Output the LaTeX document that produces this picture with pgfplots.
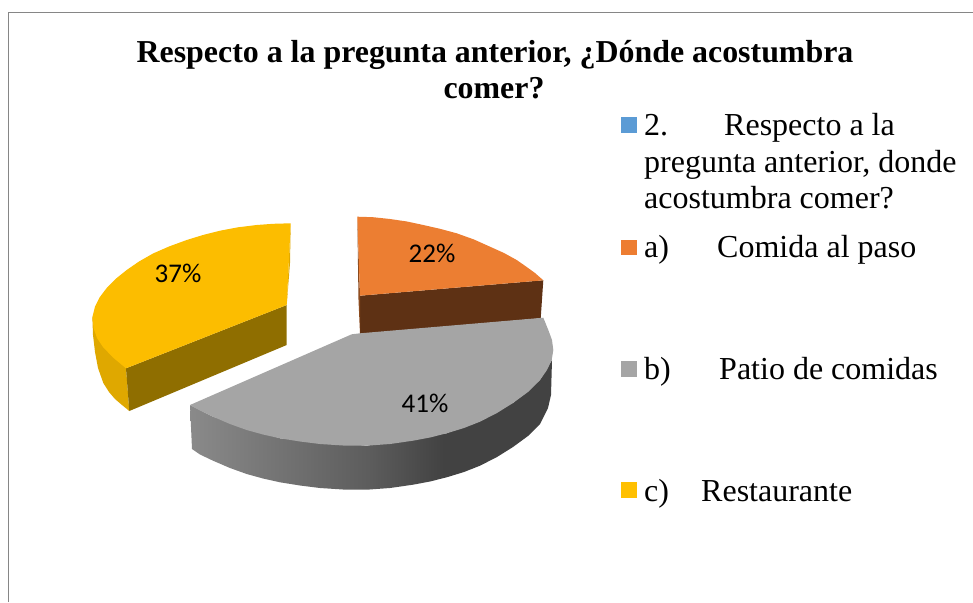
\documentclass[border=0pt]{standalone}
\usepackage{pgfplots}
\usepackage{fontspec}
\pgfplotsset{compat=1.18}
\setmainfont{Liberation Serif}
\newfontfamily\calibri{Carlito}

\definecolor{frameline}{HTML}{868686}
\definecolor{serblue}{HTML}{5B9BD5}
\definecolor{serorange}{HTML}{ED7D31}
\definecolor{toporange}{HTML}{EC7E32}
\definecolor{orangedark}{HTML}{5E3114}
\definecolor{orangeside}{HTML}{8A4A1E}
\definecolor{sergrey}{HTML}{A5A5A5}
\definecolor{seryellow}{HTML}{FFC000}
\definecolor{topyellow}{HTML}{FCBD00}
\definecolor{yellowdark}{HTML}{8F6E00}
\definecolor{yellowside}{HTML}{DFA800}
\definecolor{g1}{HTML}{8A8A8A}
\definecolor{g2}{HTML}{5C5C5C}
\definecolor{g3}{HTML}{424242}
\pgfdeclarehorizontalshading{greyside}{100bp}{
  color(0bp)=(g1); color(25bp)=(g1); color(50bp)=(g2); color(60bp)=(g3); color(75bp)=(g3); color(100bp)=(g3)}

\newcommand{\legtext}[3]{\node[anchor=base west, inner sep=0pt, font=\fontsize{32}{37}\selectfont] at (axis cs:#1,#2) {#3};}

\begin{document}
\begin{tikzpicture}
\useasboundingbox (0,0) rectangle (973pt,602pt);
\begin{axis}[
    at={(0,0)}, anchor=south west,
    scale only axis,
    width=973pt, height=602pt,
    xmin=0, xmax=973, ymin=0, ymax=602,
    y dir=reverse,
    hide axis,
    clip=true,
]
% chart frame
\addplot[frameline, line width=1pt] coordinates {(8,602) (8,12.5) (973,12.5)};

% yellow slice, 37%
\addplot[draw=none, fill=yellowside] coordinates {
    (92.3,316) (93,335) (95,352) (98,368) (103.3,383) (109,392) (115,399) (122,405) (129.3,411)
    (126,368) (100,340)} --cycle;
\addplot[draw=none, fill=yellowdark] coordinates {
    (126,368.3) (129.3,411) (286.7,345) (286.7,305)} --cycle;
\addplot[draw=none, fill=yellowside] coordinates {
    (290.7,223.3) (290,263) (286.7,305)} --cycle;
\addplot[draw=none, fill=topyellow] coordinates {
    (290.7,223.3) (273,223.8) (256.7,225) (238,227.3) (220,230.7) (203,235) (186.7,240)
    (169,246.5) (153,253.5) (139,261.5) (126.7,270) (115.5,279) (106.7,288) (99.5,297.5)
    (95,306.7) (92.5,316.7) (93.5,328) (97,338) (103,347) (113,357.5) (126,368.3)
    (286.7,305)} --cycle;

% orange slice, 22%
\addplot[draw=none, fill=orangedark] coordinates {
    (360,295.7) (543.3,280.3) (540.7,318.3) (360,334)} --cycle;
\addplot[draw=none, fill=orangeside] coordinates {
    (357.3,216.7) (360,295.7) (360,334) (358.5,300)} --cycle;
\addplot[draw=none, fill=toporange] coordinates {
    (357.3,216.7) (373,217.2) (390,219) (407,221.5) (423.3,225) (440,228.8) (456.7,233.3)
    (474,239.5) (490,246.7) (504,253) (516.7,260) (526,266.5) (535,273) (543.3,280.3)
    (360,295.7)} --cycle;

% grey slice, 41%
\addplot[draw=none, shading=greyside] coordinates {
    (190,405) (192,449) (200,454.5) (213,460.7) (230,468) (246.7,474) (263,478.5) (280,482.3)
    (300,485.5) (320,488) (343,489.5) (366.7,489.7) (390,488) (413,484.7) (430,481.5)
    (446.7,477.3) (464,472) (480,465.7) (497,457) (513,447) (528,436) (540,424) (548,408)
    (551,395) (552,360) (540,380) (513,403) (446.7,433.3) (366.7,445.7) (280,438.3) (213,416.7)} --cycle;
\addplot[draw=none, fill=sergrey] coordinates {
    (351.7,334.3) (360,333.3) (543.3,317.7) (548.3,330) (552,340) (553.3,350) (551.7,360)
    (547,370) (540,380) (528,392) (513,403) (497,413) (480,421.7) (464,428) (446.7,433.3)
    (430,437.5) (413,440.7) (390,444) (366.7,445.7) (343,445.5) (320,444) (300,441.5)
    (280,438.3) (263,434.5) (246.7,430) (230,424) (213,416.7) (200,410.5) (190,405)} --cycle;

% data labels
\addplot[only marks, mark=none, point meta=explicit symbolic,
    nodes near coords={\pgfplotspointmeta\%},
    nodes near coords align={center},
    every node near coord/.style={anchor=center, inner sep=0pt, font=\calibri\fontsize{27}{30}\selectfont},
] coordinates {(178,273) [37] (432,253) [22] (425,403) [41]};

% legend keys
\addplot[draw=none, fill=serblue] coordinates {(621,117) (637,117) (637,133) (621,133)} --cycle;
\addplot[draw=none, fill=serorange] coordinates {(621,239.5) (637,239.5) (637,255) (621,255)} --cycle;
\addplot[draw=none, fill=sergrey] coordinates {(621,361) (637,361) (637,377) (621,377)} --cycle;
\addplot[draw=none, fill=seryellow] coordinates {(621,482) (637,482) (637,498) (621,498)} --cycle;

% legend text
\legtext{644}{135}{2.}
\legtext{724}{135}{Respecto a la}
\legtext{644}{172}{pregunta anterior, donde}
\legtext{644}{208}{acostumbra comer?}
\legtext{644}{257}{a)}
\legtext{717}{257}{Comida al paso}
\legtext{644}{379}{b)}
\legtext{719}{379}{Patio de comidas}
\legtext{644}{501}{c)}
\legtext{701}{501}{Restaurante}

% title
\node[anchor=base, inner sep=0pt, font=\bfseries\fontsize{31.9}{36}\selectfont] at (axis cs:495,63) {Respecto a la pregunta anterior, ¿Dónde acostumbra};
\node[anchor=base, inner sep=0pt, font=\bfseries\fontsize{31.9}{36}\selectfont] at (axis cs:494,98) {comer?};
\end{axis}
\end{tikzpicture}
\end{document}
